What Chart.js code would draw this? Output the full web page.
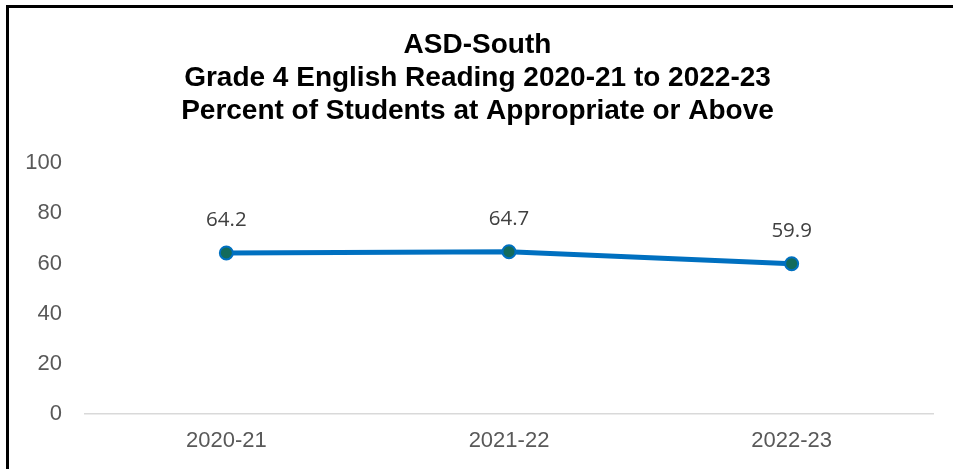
<!DOCTYPE html>
<html>
<head>
<meta charset="utf-8">
<script src="https://cdn.jsdelivr.net/npm/chart.js@4"></script>
<style>
  body { margin: 0; background: #fff; }
  #frame { position: absolute; left: 6px; top: 5px; width: 1000px; height: 500px;
           border-top: 3px solid #000; border-left: 3px solid #000; }
  #chart { position: absolute; left: 0; top: 0; }
</style>
</head>
<body>
<div id="frame"></div>
<canvas id="chart" width="953" height="469"></canvas>
<script>
const years = ['2020-21', '2021-22', '2022-23']
const percentAbove = [64.2, 64.7, 59.9]
const yTicks = [0, 20, 40, 60, 80, 100]

const titleLines = [
    'ASD-South',
    'Grade 4 English Reading 2020-21 to 2022-23',
    'Percent of Students at Appropriate or Above'
]

const fontName = '"Liberation Sans", Arial, sans-serif'

// labels over each point
const pointLabels = {
    id: 'pointLabels',
    afterDatasetsDraw(chart) {
        const c = chart.ctx
        const meta = chart.getDatasetMeta(0)
        c.save()
        c.font = '20.5px "Open Sans", sans-serif'
        c.fillStyle = '#404040'
        c.textAlign = 'center'
        c.textBaseline = 'middle'
        meta.data.forEach((pt, i) => {
            c.fillText(percentAbove[i].toFixed(1), pt.x, pt.y - 33)
        })
        c.restore()
    }
}

const ctx = document.getElementById('chart').getContext('2d')

const chart = new Chart(ctx, {
    type: 'line',
    data: {
        labels: years,
        datasets: [{
            label: 'Percent at Appropriate or Above',
            data: percentAbove,
            borderColor: '#0070C0',
            borderWidth: 5,
            pointRadius: 6.5,
            pointBackgroundColor: '#136B5C',
            pointBorderColor: '#0070C0',
            pointBorderWidth: 2,
            tension: 0
        }]
    },
    options: {
        responsive: false,
        animation: false,
        layout: { padding: { left: 22, right: 20, top: 29, bottom: 15 } },
        plugins: {
            legend: { display: false },
            tooltip: { enabled: false },
            title: {
                display: true,
                text: titleLines,
                color: '#000',
                font: { family: fontName, size: 28, weight: 'bold', lineHeight: 1.18 },
                padding: { top: 0, bottom: 35 }
            }
        },
        scales: {
            x: {
                offset: true,
                grid: { display: false, drawTicks: false },
                border: { display: true, color: '#D9D9D9', width: 1.5 },
                ticks: {
                    color: '#595959',
                    padding: 14,
                    font: { family: fontName, size: 22 }
                },
                afterFit(scale) { scale.height = 40 }
            },
            y: {
                min: 0,
                max: 100,
                afterBuildTicks(scale) {
                    scale.ticks = yTicks.map(v => ({ value: v }))
                },
                grid: { display: false, drawTicks: false },
                border: { display: false },
                ticks: {
                    color: '#595959',
                    padding: 23,
                    font: { family: fontName, size: 22 }
                },
                afterFit(scale) { scale.width = 63 }
            }
        }
    },
    plugins: [pointLabels]
})
</script>
</body>
</html>
